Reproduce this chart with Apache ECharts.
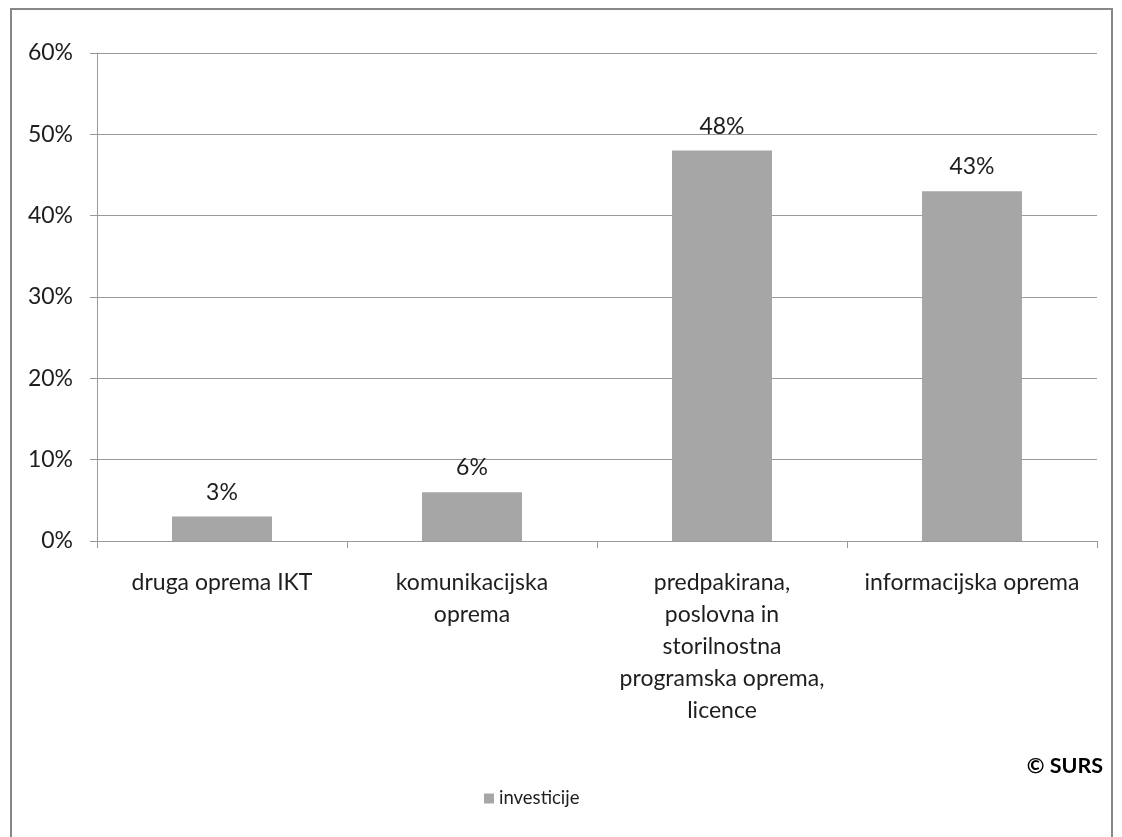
<!DOCTYPE html>
<html>
<head>
<meta charset="utf-8">
<script src="https://cdn.jsdelivr.net/npm/echarts@6/dist/echarts.min.js"></script>
<style>html,body{margin:0;padding:0;background:#fff;}#c{width:1122px;height:837px;}</style>
</head>
<body>
<div id="c"></div>
<script>
const categories = ['druga oprema IKT', 'komunikacijska\noprema', 'predpakirana,\nposlovna in\nstorilnostna\nprogramska oprema,\nlicence', 'informacijska oprema'];
const values = [3, 6, 48, 43];
const seriesName = 'investicije';
const yTicks = [0, 10, 20, 30, 40, 50, 60];

const FONT = 'Lato, "Open Sans", sans-serif';
const TXT = '#1e1e1e';
const chart = echarts.init(document.getElementById('c'));
chart.setOption({
  animation: false,
  backgroundColor: '#fff',
  textStyle: { fontFamily: FONT },
  graphic: [
    { type: 'rect', shape: { x: 11, y: 9, width: 1101, height: 840 }, style: { fill: 'none', stroke: '#888', lineWidth: 2 } },
    { type: 'text', right: 19, top: 755, style: { text: '© SURS', font: 'bold 21.5px ' + FONT, fill: '#000' } }
  ],
  legend: {
    bottom: 24, left: 479,
    itemWidth: 10, itemHeight: 10, itemGap: 4,
    textStyle: { fontSize: 18.5, color: TXT, fontFamily: FONT },
    icon: 'rect',
    data: [seriesName]
  },
  grid: { left: 97, right: 25, top: 53, bottom: 296, containLabel: false },
  xAxis: {
    type: 'category',
    data: categories,
    axisLine: { lineStyle: { color: '#999', width: 1 } },
    axisTick: { show: true, length: 7, alignWithLabel: false, lineStyle: { color: '#999' } },
    axisLabel: { interval: 0, margin: 26, fontSize: 23, lineHeight: 32, color: TXT, fontFamily: FONT }
  },
  yAxis: {
    type: 'value',
    min: yTicks[0], max: yTicks[yTicks.length - 1], interval: 10,
    axisLine: { show: true, lineStyle: { color: '#999' } },
    axisTick: { show: true, length: 7, lineStyle: { color: '#999' } },
    splitLine: { lineStyle: { color: '#999' } },
    axisLabel: { formatter: '{value}%', fontSize: 23, margin: 24, color: TXT, fontFamily: FONT }
  },
  series: [{
    name: seriesName,
    type: 'bar',
    data: values,
    barWidth: '40%',
    itemStyle: { color: '#a6a6a6' },
    label: { show: true, position: 'top', distance: 13, formatter: '{c}%', fontSize: 23, color: TXT, fontFamily: FONT }
  }]
});
</script>
</body>
</html>
